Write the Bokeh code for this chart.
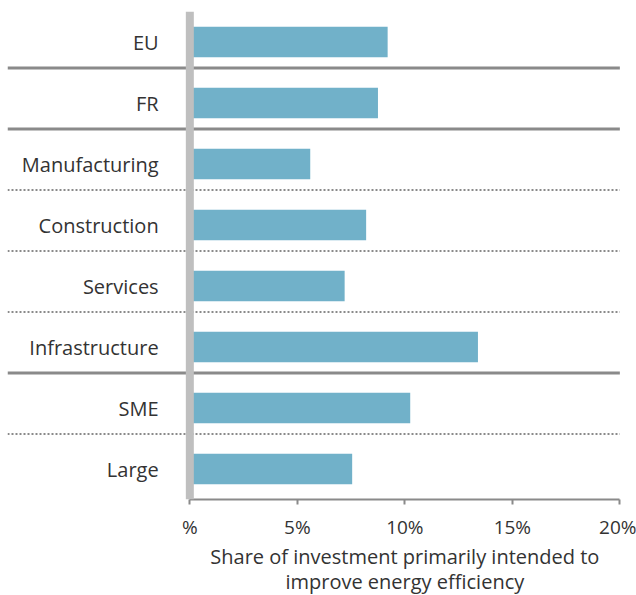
from bokeh.plotting import figure
from bokeh.layouts import column
from bokeh.models import Range1d, FixedTicker, Span
from bokeh.core.properties import value
from bokeh.embed import file_html
from bokeh.resources import INLINE

categories = ["EU", "FR", "Manufacturing", "Construction", "Services",
              "Infrastructure", "SME", "Large"]
values = [9.2, 8.75, 5.6, 8.2, 7.2, 13.4, 10.25, 7.55]
solid_after = ["EU", "FR", "Infrastructure"]
dotted_after = ["Manufacturing", "Construction", "Services", "SME"]
tick_values = [0, 5, 10, 15, 20]
tick_labels = ["%", "5%", "10%", "15%", "20%"]
x_title_lines = ["Share of investment primarily intended to",
                 "improve energy efficiency"]

FONT = "Open Sans"
TXT = "#333333"
X_START = -8.48
X_END = 20.03

idx = list(range(len(categories)))

p = figure(width=636, height=542, output_backend="svg", toolbar_location=None,
           x_range=Range1d(X_START, X_END), y_range=Range1d(len(categories) - 0.5, -0.5),
           y_axis_location=None, min_border_left=7, min_border_right=16,
           min_border_top=11, min_border_bottom=41)
p.outline_line_color = None
p.xgrid.visible = False
p.ygrid.visible = False

p.hbar(y=idx, right=values, left=0, height=0.5, fill_color="#71b1c9", line_color=None)

# category labels
p.text(x=[-1.45] * len(categories), y=idx, text=categories, text_align="right",
       text_baseline="middle", text_font=value(FONT), text_font_size="20px",
       text_color=TXT)

# vertical zero bar
p.add_layout(Span(location=0, dimension="height", line_color="#bfbfbf", line_width=8))

off = -0.072
sy = [categories.index(c) + 0.5 + off for c in solid_after]
p.segment(x0=[X_START] * len(sy), x1=[tick_values[-1]] * len(sy), y0=sy, y1=sy,
          line_color="#8a8a8a", line_width=3)
dy = [categories.index(c) + 0.5 + off for c in dotted_after]
p.segment(x0=[X_START] * len(dy), x1=[tick_values[-1]] * len(dy), y0=dy, y1=dy,
          line_color="#8a8a8a", line_width=2, line_dash="2 2")

ax = p.xaxis[0]
ax.bounds = (tick_values[0], tick_values[-1])
ax.ticker = FixedTicker(ticks=tick_values)
ax.major_label_overrides = {v: l for v, l in zip(tick_values, tick_labels)}
ax.minor_tick_line_color = None
ax.axis_line_color = "#8a8a8a"
ax.axis_line_width = 2
ax.major_tick_line_color = "#8a8a8a"
ax.major_tick_line_width = 2
ax.major_tick_out = 5
ax.major_tick_in = 0
ax.major_label_standoff = 9
ax.major_label_text_font = FONT
ax.major_label_text_font_size = "19px"
ax.major_label_text_color = TXT

# axis title, centred on the axis extent (shares the x range)
t = figure(width=636, height=53, output_backend="svg", toolbar_location=None,
           x_range=p.x_range, y_range=Range1d(53, 0),
           x_axis_location=None, y_axis_location=None,
           min_border_left=7, min_border_right=16, min_border_top=0, min_border_bottom=0)
t.outline_line_color = None
t.xgrid.visible = False
t.ygrid.visible = False
mid = (tick_values[0] + tick_values[-1]) / 2
t.text(x=[mid] * len(x_title_lines), y=[14, 39], text=x_title_lines,
       text_align="center", text_baseline="middle", text_font=value(FONT),
       text_font_size="20px", text_color=TXT)

open("out.html", "w").write(file_html(column(p, t), INLINE))
